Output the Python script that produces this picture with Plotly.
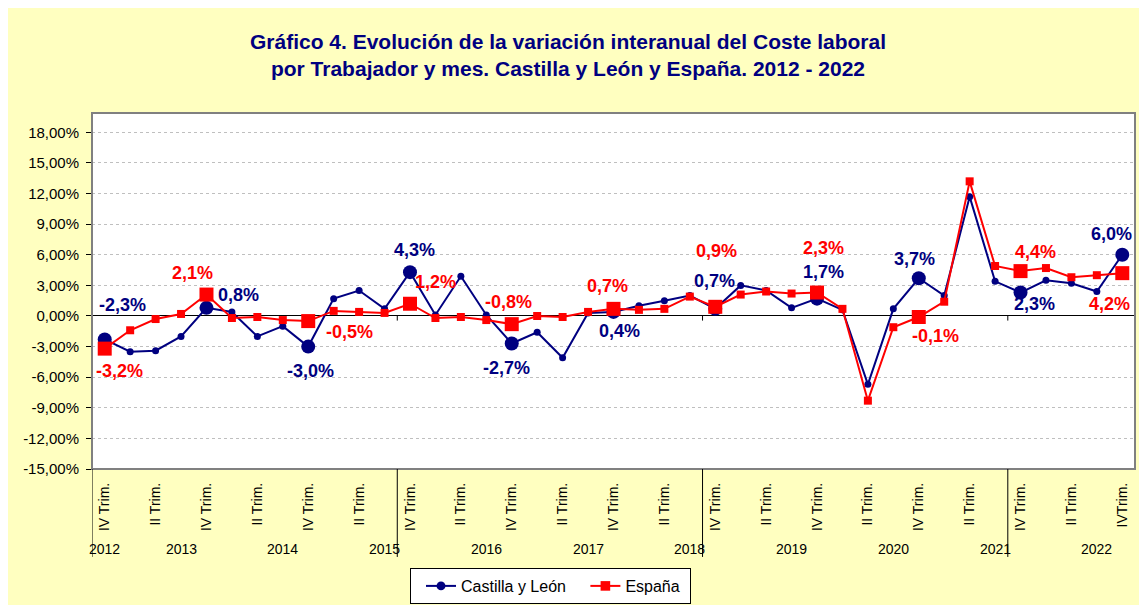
import plotly.graph_objects as go

# ---------------- data ----------------
tick_labels = ["IV Trim.", "II Trim."] * 10 + ["IVTrim."]
year_labels = ["2012", "2013", "2014", "2015", "2016", "2017", "2018", "2019", "2020", "2021", "2022"]
year_label_pos = [0, 3, 7, 11, 15, 19, 23, 27, 31, 35, 39]
year_separators = [-0.5, 11.5, 23.5, 35.5]

castilla_leon = [-2.3, -3.5, -3.4, -2.0, 0.8, 0.4, -2.0, -1.0, -3.0, 1.7,
                 2.5, 0.7, 4.3, 0.1, 3.9, 0.1, -2.7, -1.6, -4.1, 0.3,
                 0.4, 1.0, 1.5, 2.0, 0.7, 3.0, 2.5, 0.8, 1.7, 0.6,
                 -6.7, 0.7, 3.7, 2.0, 11.7, 3.4, 2.3, 3.5, 3.2, 2.4, 6.0]
espana = [-3.2, -1.4, -0.3, 0.2, 2.1, -0.2, -0.1, -0.4, -0.5, 0.5,
          0.4, 0.3, 1.2, -0.2, -0.1, -0.4, -0.8, 0.0, -0.1, 0.4,
          0.7, 0.6, 0.7, 1.9, 0.9, 2.1, 2.4, 2.2, 2.3, 0.7,
          -8.3, -1.1, -0.1, 1.4, 13.2, 4.9, 4.4, 4.7, 3.8, 4.0, 4.2]
labeled_idx = [0, 4, 8, 12, 16, 20, 24, 28, 32, 36, 40]

y_ticks = list(range(-15, 19, 3))

# ---------------- styles ----------------
NAVY = "#000080"
RED = "#FF0000"
BG = "#FFFFC0"
FONT = "Arial, Liberation Sans, sans-serif"
W, H = 1139, 597  # page body adds an 8px margin
NB = "\u00a0"

# label pixel offsets (dx, dy up) for annual labels
cyl_offsets = [(18, 34), (32, 13), (2, -24), (5, 22), (-5, -24), (6, -19),
               (-1, 28), (6, 27), (-4, 19), (14, -11), (-11, 21)]
esp_offsets = [(15, -22), (-14, 22), (41, -11), (26, 22), (-3, 22), (-6, 23),
               (1, 56), (6, 45), (17, -19), (15, 19), (-13, -31)]

n = len(castilla_leon)
x = list(range(n))
cyl_sizes = [14 if i in labeled_idx else 7 for i in x]
esp_sizes = [14 if i in labeled_idx else 8 for i in x]

fig = go.Figure()
fig.add_trace(go.Scatter(
    x=x, y=castilla_leon, name="Castilla y León" + NB, mode="lines+markers",
    line=dict(color=NAVY, width=2),
    marker=dict(symbol="circle", size=cyl_sizes, color=NAVY, opacity=1, line=dict(width=0)),
))
fig.add_trace(go.Scatter(
    x=x, y=espana, name="España" + NB, mode="lines+markers",
    line=dict(color=RED, width=2),
    marker=dict(symbol="square", size=esp_sizes, color=RED, opacity=1, line=dict(width=0)),
))


def fmt(v):
    return f"{v:.1f}".replace(".", ",") + "%"


annotations = []
for k, i in enumerate(labeled_idx):
    dx, dy = cyl_offsets[k]
    annotations.append(dict(x=i, y=castilla_leon[i], xref="x", yref="y", text=fmt(castilla_leon[i]),
                            showarrow=False, xshift=dx, yshift=dy,
                            font=dict(family=FONT, size=18, color=NAVY, weight="bold")))
    dx, dy = esp_offsets[k]
    annotations.append(dict(x=i, y=espana[i], xref="x", yref="y", text=fmt(espana[i]),
                            showarrow=False, xshift=dx, yshift=dy,
                            font=dict(family=FONT, size=18, color=RED, weight="bold")))

for lab, pos in zip(year_labels, year_label_pos):
    annotations.append(dict(x=pos, y=-0.225, xref="x", yref="paper", text=lab, showarrow=False,
                            yanchor="middle", font=dict(family=FONT, size=14, color="black")))

shapes = []
# outer navy frame
shapes.append(dict(type="rect", xref="paper", yref="paper", x0=-0.0825, x1=1.03, y0=-0.40, y1=1.3076,
                   line=dict(color=NAVY, width=2), fillcolor="rgba(0,0,0,0)", layer="below"))
# plot area border
shapes.append(dict(type="rect", xref="paper", yref="paper", x0=0, x1=1, y0=0, y1=1,
                   line=dict(color="#808080", width=2), fillcolor="rgba(0,0,0,0)"))
# year separators below the axis
for s in year_separators:
    shapes.append(dict(type="line", xref="x", yref="paper", x0=s, x1=s, y0=0, y1=-0.247,
                       line=dict(color="black", width=1)))
    if s > 0:
        shapes.append(dict(type="line", xref="x", yref="y", x0=s, x1=s, y0=0, y1=-0.45,
                           line=dict(color="black", width=1)))

fig.update_layout(
    width=W, height=H,
    paper_bgcolor=BG, plot_bgcolor="white",
    margin=dict(l=84, r=12, t=105, b=136, autoexpand=False),
    font=dict(family=FONT, size=14, color="black"),
    title=dict(text="Gráfico 4. Evolución de la variación interanual del Coste laboral<br>"
                    "por Trabajador y mes. Castilla y León y España. 2012 - 2022",
               x=560 / W, xanchor="center", y=1 - 41 / H, yanchor="middle", yref="container",
               font=dict(family=FONT, size=21, color=NAVY, weight="bold")),
    showlegend=True,
    legend=dict(orientation="h", xref="container", yref="container",
                x=402 / W, y=1 - 560 / H, xanchor="left", yanchor="top",
                bgcolor="white", bordercolor="black", borderwidth=1, indentation=10,
                font=dict(family=FONT, size=16, color="black")),
    annotations=annotations,
    shapes=shapes,
)

fig.update_xaxes(range=[-0.5, n - 0.5], showgrid=False, zeroline=False, showline=False,
                 tickmode="array", tickvals=list(range(0, n, 2)), ticktext=tick_labels,
                 tickangle=-90, ticks="", ticklabelstandoff=10, automargin=False,
                 tickfont=dict(family=FONT, size=14, color="black"))
fig.update_yaxes(range=[-15, 19.9], tickmode="array", tickvals=y_ticks,
                 ticktext=[f"{v:.2f}".replace(".", ",") + "%" for v in y_ticks],
                 showgrid=True, gridcolor="#BFBFBF", griddash="dot", gridwidth=1,
                 zeroline=True, zerolinecolor="black", zerolinewidth=1,
                 showline=True, linecolor="black", linewidth=1, automargin=False,
                 ticks="outside", ticklen=5, tickcolor="black", ticklabelstandoff=4,
                 tickfont=dict(family=FONT, size=15, color="black"))

fig.write_html("out.html")
